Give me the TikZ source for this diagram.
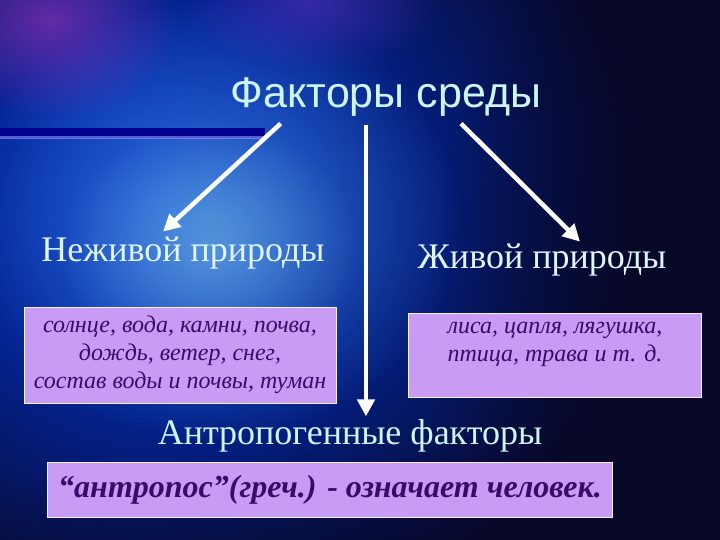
\documentclass[tikz,border=0pt]{standalone}
\usepackage{fontspec}
\setmainfont{Liberation Serif}
\newfontfamily\titlefont{Liberation Sans}
\usetikzlibrary{arrows.meta,fadings}

\definecolor{boxfill}{RGB}{200,155,245}
\definecolor{boxtext}{RGB}{58,10,106}
\definecolor{headtext}{RGB}{225,245,255}
\definecolor{titletext}{RGB}{205,245,245}
\definecolor{bgdark}{RGB}{8,8,40}
\tikzfading[name=glow,inner color=transparent!0,outer color=transparent!100]

\begin{document}
\begin{tikzpicture}[x=1pt,y=-1pt,
   arr/.style={draw=white,line width=4.5pt,-{Triangle[length=17pt,width=17pt]}},
   head/.style={text=headtext,font=\fontsize{36}{40}\selectfont,inner sep=0pt},
   factbox/.style={fill=boxfill,draw=white!85!boxfill,line width=0.8pt,
                   text=boxtext,align=center,inner sep=0pt,
                   font=\itshape\fontsize{24}{28}\selectfont}]
\useasboundingbox (0,0) rectangle (720,540);
\clip (0,0) rectangle (720,540);

% background
\fill[bgdark] (0,0) rectangle (720,540);
\fill[blue!75!cyan!90!black,path fading=glow] (-300,-250) rectangle (640,660);
\fill[cyan!50!blue!80!white,path fading=glow,opacity=0.8] (-40,0) rectangle (460,440);
\fill[cyan!40!white,path fading=glow,opacity=0.35] (60,120) rectangle (360,380);
\fill[violet!60!magenta!80!white,path fading=glow,opacity=0.5] (-80,-80) rectangle (180,120);
\fill[violet!50!blue!80!white,path fading=glow,opacity=0.5] (180,-60) rectangle (440,70);
\fill[bgdark,path fading=glow,opacity=0.8] (440,-120) rectangle (940,660);
\fill[bgdark,path fading=glow,opacity=0.6] (-200,450) rectangle (900,710);

% bar
\fill[blue!55!black] (0,128) rectangle (265,138);
\fill[blue!40!white,opacity=0.6] (0,136) rectangle (265,139);

\node[text=titletext,font=\titlefont\fontsize{43}{47}\selectfont,inner sep=0pt] (t) at (386,97) {Факторы среды};

\node[head] (nl) at (183,253) {Неживой природы};
\node[head] (zl) at (542,260) {Живой природы};

\node[factbox,minimum width=312pt,minimum height=96pt] (nb) at (180,355)
   {солнце, вода, камни, почва,\\ дождь, ветер, снег,\\ состав воды и почвы, туман};
\node[factbox,minimum width=293pt,minimum height=84pt,text depth=26pt] (zb) at (555,355)
   {лиса, цапля, лягушка,\\ птица, трава и т. д.};

\node[head,text=titletext] (af) at (350,436) {Антропогенные факторы};
\node[factbox,minimum width=565pt,minimum height=55pt,
      font=\bfseries\itshape\fontsize{32}{34}\selectfont] (ab) at (330,490)
   {“антропос”(греч.) - означает человек.};

% arrows
\draw[arr] ([xshift=50pt,yshift=-7pt]t.south west) -- ([xshift=-20pt,yshift=5pt]nl.north);
\draw[arr] ([xshift=75pt,yshift=-7pt]t.south) -- ([xshift=38pt,yshift=2pt]zl.north);
\draw[arr] ([xshift=16pt,yshift=-8pt]af.north |- t.south) -- ([xshift=16pt,yshift=3pt]af.north);

\end{tikzpicture}
\end{document}
